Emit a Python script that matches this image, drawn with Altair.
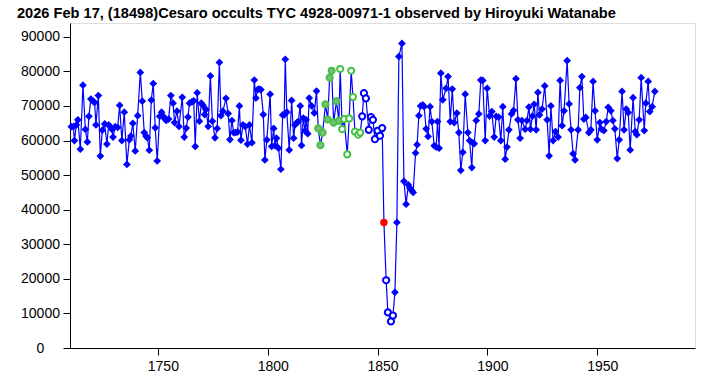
import altair as alt
import pandas as pd

TITLE = "2026 Feb 17, (18498)Cesaro occults TYC 4928-00971-1 observed by Hiroyuki Watanabe"

# ---- baseline (blue diamonds) before the event ----
pre_x = [1710.6,1711.5,1712.0,1712.9,1713.6,1714.7,1715.9,1717.0,1717.9,1718.6,1719.5,1720.4,1721.2,1721.8,
         1722.9,1723.8,1724.7,1725.8,1726.8,1727.6,1728.3,1729.1,1729.6,1730.6,1731.7,1732.6,1733.6,1734.7,
         1735.9,1737.0,1737.7,1738.6,1739.7,1740.8,1742.0,1742.9,1743.8,1744.6,1745.2,1746.1,1747.0,1747.9,
         1748.8,1749.7,1750.8,1751.7,1752.5,1753.2,1753.8,1754.9,1755.9,1756.9,1757.6,1758.7,1759.6,1761.1,
         1762.0,1762.9,1763.7,1764.4,1765.5,1766.3,1767.0,1767.9,1768.9,1769.8,1770.5,1771.3,1771.9,1772.9,
         1773.9,1774.8,1776.0,1777.0,1778.0,1778.7,1779.6,1781.0,1782.0,1782.8,1783.7,1784.5,1785.4,1786.3,
         1787.1,1787.8,1788.7,1789.8,1790.8,1791.7,
         1792.8,1793.9,1794.6,1795.4,1796.1,1796.9,1798.0,1798.7,1799.6,1801.1,1801.8,1802.7,1803.3,1804.0,
         1804.9,1806.0,1806.8,1807.5,1808.0,1808.7,1809.8,1810.9,1811.8,1812.4,1813.3,1813.9,1814.8,1815.4,
         1816.2,1817.0,1817.5,1818.2,1818.9,1820.0,1821.2,1822.2]
pre_y = [64000,64000,60000,64500,66000,57500,76000,63200,59600,67000,72000,71500,71000,64500,
         73000,55500,63000,64800,59000,64500,64000,63200,61000,64000,63800,70200,60000,68200,
         53100,60200,61300,65000,57000,67200,79700,71400,62300,61300,60800,57200,71700,76500,
         63700,54100,67000,68200,67000,66300,65800,66200,73000,70800,65200,68500,64100,72500,
         61000,63600,66800,70800,71200,71500,58300,73800,65600,70800,70200,67500,69000,64100,
         78700,65600,60800,63500,82600,67200,68500,72200,67800,60300,65800,62300,62300,62500,
         70000,60100,64500,64000,59000,64500,
         59400,77500,72300,74700,74900,74700,67500,54400,60200,73400,58300,63500,58500,60700,
         57800,51700,67400,67400,83500,68200,57300,71600,60700,64500,65200,65500,70000,58600,
         66500,62800,66000,62000,72300,70000,68000,74300]

# ---- green filled circles ----
gf_x = [1823.0,1824.0,1825.0,1826.3,1827.3,1828.2,1829.1,1830.0,1831.3,1832.4]
gf_y = [63500,58700,62300,70500,66100,78200,80200,65200,71400,65700]

# ---- green open circles ----
go_x = [1833.0,1833.9,1834.8,1836.2,1837.1,1838.0,1838.8,1839.7,1841.2,1842.1]
go_y = [80700,63300,66200,56000,66400,80200,72600,62600,61700,62300]

# ---- blue open circles (before red) ----
bo1_x = [1843.0,1843.8,1844.7,1846.0,1847.0,1847.9,1848.8,1850.0,1851.1,1852.1]
bo1_y = [67000,73700,72200,63100,66800,66000,60400,62800,61400,63600]

# ---- red point ----
red_x = [1852.9]
red_y = [36300]

# ---- blue open circles (after red) ----
bo2_x = [1853.9,1854.7,1856.1,1857.0]
bo2_y = [19600,10300,7700,9400]

# ---- blue diamonds after the event ----
post_x = [1857.9,1858.8,1859.7,1861.1,1862.0,1863.0,1864.0,1864.7,1865.5,1866.2,1867.3,1868.0,1868.8,1869.6,
          1870.6,1871.2,1872.1,1873.0,1873.9,1874.7,1875.8,1876.7,1877.3,1878.0,1878.8,1879.7,1881.2,1882.1,
          1883.1,1884.0,1884.9,1886.1,1887.0,1887.9,1888.8,1889.9,1891.1,1891.9,1892.9,1893.4,1894.0,1894.9,
          1896.1,1897.0,1897.9,1899.0,1899.9,1901.0,1902.0,1903.1,1904.0,1905.1,1906.1,1907.0,1908.1,1908.9,
          1909.8,1911.0,1911.9,1913.0,1913.9,1914.9,1915.7,1917.2,1918.0,1918.9,1919.6,1920.5,1921.3,1922.2,
          1923.0,1923.7,1924.9,1926.1,1927.2,1928.1,1928.9,1929.9,1931.0,1932.2,1933.1,1934.0,1934.9,1936.3,
          1937.2,1938.1,1939.0,1939.9,1941.3,1942.1,1943.0,1943.9,1944.8,1946.2,1947.1,1948.1,1949.0,1950.0,
          1951.2,1951.9,1953.0,1954.1,1955.0,1956.2,1957.1,1958.0,1959.1,1960.0,1961.3,1962.2,1963.2,1964.1,
          1965.0,1966.3,1967.3,1968.0,1969.1,1970.0,1971.4,1972.1,1973.2,1973.9,1975.0,1976.2]
post_y = [16100,36300,84300,88100,48200,41600,47200,46300,45600,45000,56400,58800,67200,70000,
          70300,69800,63400,61200,69800,65500,58500,58100,65500,57800,79500,71800,75100,78500,
          65500,74900,65200,67900,62300,51400,56600,73400,62300,60000,52200,59300,59100,65800,
          67700,77500,77400,60000,75100,67100,68400,61000,67000,66800,60000,69800,54600,58100,
          63100,67700,68700,77900,66000,60700,65800,63300,65800,69700,63300,67100,70500,63100,
          73900,67400,69100,75800,66000,55600,70000,60000,62600,61000,77400,64300,68600,83100,
          70600,63100,56200,54400,63100,75300,78500,66200,66700,62300,63100,77100,68600,60200,
          65200,63300,62900,65500,69600,68600,65800,63400,54800,60200,74200,63100,69100,68100,
          57300,72400,62600,61700,66000,78200,62900,70800,77100,68400,69800,74200]

y_ticks = [0, 10000, 20000, 30000, 40000, 50000, 60000, 70000, 80000, 90000]
x_ticks = [1750, 1800, 1850, 1900, 1950]

segments = [("d", pre_x, pre_y), ("gf", gf_x, gf_y), ("go", go_x, go_y), ("bo", bo1_x, bo1_y),
            ("r", red_x, red_y), ("bo", bo2_x, bo2_y), ("d", post_x, post_y)]
rows = []
for kind, xs, ys in segments:
    for xv, yv in zip(xs, ys):
        rows.append({"t": xv, "v": yv, "kind": kind, "i": len(rows)})
df = pd.DataFrame(rows)

FONT = "Liberation Sans"

x_enc = alt.X("t:Q", scale=alt.Scale(domain=[1710, 1994.5], nice=False, zero=False),
              axis=alt.Axis(values=x_ticks, tickCount=20, title=None, grid=False,
                            domainColor="black", tickColor="black", tickSize=7,
                            labelFont=FONT, labelFontSize=14, labelColor="black",
                            labelPadding=4, labelOffset=5, format="d", labelFlush=False,
                            labelOverlap=False))
y_enc = alt.Y("v:Q", scale=alt.Scale(domain=[0, 94000], nice=False),
              axis=alt.Axis(values=y_ticks, tickCount=20, title=None, grid=False,
                            domainColor="black", tickColor="black", tickSize=7,
                            labelFont=FONT, labelFontSize=14, labelColor="black",
                            labelAlign="center", labelPadding=23, format="d", labelFlush=False,
                            labelOverlap=False))

base = alt.Chart(df)

line = base.mark_line(color="#0000ff", strokeWidth=1.2).encode(x=x_enc, y=y_enc, order="i:Q")

diam = base.transform_filter(alt.datum.kind == "d").mark_point(
    shape="diamond", filled=True, color="#0000ff", size=60, opacity=1).encode(x="t:Q", y="v:Q")

gfill = base.transform_filter(alt.datum.kind == "gf").mark_point(
    shape="circle", filled=True, fill="#86b886", stroke="#44c244", strokeWidth=2,
    size=38, opacity=1).encode(x="t:Q", y="v:Q")

gopen = base.transform_filter(alt.datum.kind == "go").mark_point(
    shape="circle", filled=True, fill="white", stroke="#44c244", strokeWidth=2,
    size=38, opacity=1).encode(x="t:Q", y="v:Q")

bopen = base.transform_filter(alt.datum.kind == "bo").mark_point(
    shape="circle", filled=True, fill="white", stroke="#0000ff", strokeWidth=2,
    size=38, opacity=1).encode(x="t:Q", y="v:Q")

redp = base.transform_filter(alt.datum.kind == "r").mark_point(
    shape="circle", filled=True, color="#ff0000", size=55, opacity=1).encode(x="t:Q", y="v:Q")

chart = alt.layer(line, diam, gfill, gopen, bopen, redp).properties(
    width=625, height=325,
    title=alt.TitleParams(TITLE, anchor="start", frame="group", dx=-53, dy=16, offset=6,
                          baseline="alphabetic", font=FONT, fontSize=14.6, fontWeight="bold",
                          color="black"),
    autosize=alt.AutoSizeParams(type="none"),
    padding={"left": 70, "top": 23, "right": 33, "bottom": 30},
).configure_view(stroke=None).configure(background="white")

chart.save("out.html", embed_options={"renderer": "svg", "actions": False})
